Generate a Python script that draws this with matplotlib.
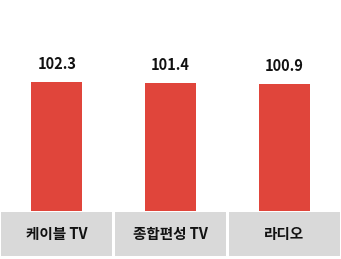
"""Bar chart of index values by broadcast type."""

import matplotlib
matplotlib.use("Agg")
import matplotlib.pyplot as plt
from matplotlib.patches import Rectangle

plt.rcParams["font.family"] = ["Noto Sans CJK KR", "DejaVu Sans"]

categories = ["케이블 TV", "종합편성 TV", "라디오"]
values = [102.3, 101.4, 100.9]

W, H = 341, 259
fig = plt.figure(figsize=(W / 100, H / 100), dpi=100)

# Bars area: top of figure down to the gray label strip.
ax = fig.add_axes([0, (H - 211) / H, 1, 211 / H])
positions = range(len(categories))
ax.bar(positions, values, width=0.45, color="#e0453b")
for p, v in zip(positions, values):
    ax.text(p, v + 8, f"{v:.1f}", ha="center", va="bottom",
            fontsize=10.5, fontweight="bold", color="#111111")
ax.set_xlim(-0.5, 2.5)
ax.set_ylim(0, 211 / 1.26)
ax.axis("off")

# Gray category boxes under the bars.
lab = fig.add_axes([0, (H - 256) / H, 1, 44 / H])
lab.set_xlim(-0.5, 2.5)
lab.set_ylim(0, 1)
gap = 0.013
for p, name in zip(positions, categories):
    lab.add_patch(Rectangle((p - 0.5 + gap, 0), 1 - 2 * gap, 1,
                            facecolor="#d9d9d9", edgecolor="none"))
    lab.text(p, 0.5, name, ha="center", va="center",
             fontsize=10.5, fontweight="bold", color="#111111")
lab.axis("off")

fig.savefig("out.png", dpi=100)
